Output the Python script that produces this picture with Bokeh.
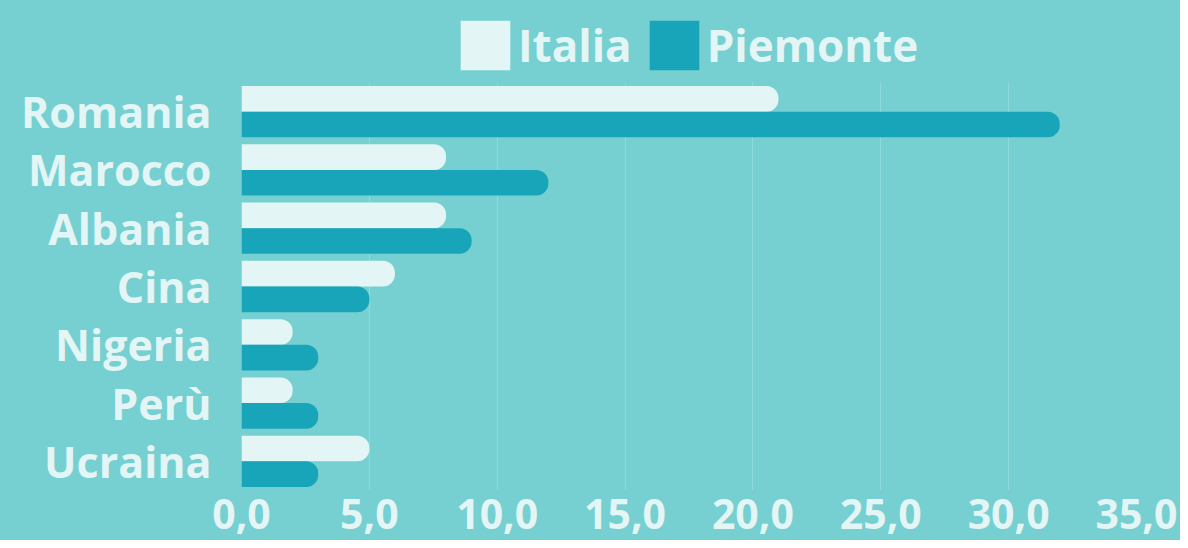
from bokeh.plotting import figure
from bokeh.layouts import column
from bokeh.models import (ColumnDataSource, FactorRange, Range1d, FixedTicker,
                          CustomJSTickFormatter, Legend, LegendItem)
from bokeh.transform import dodge
from bokeh.embed import file_html
from bokeh.resources import INLINE

categories = ["Romania", "Marocco", "Albania", "Cina", "Nigeria", "Perù", "Ucraina"]
italia = [21, 8, 8, 6, 2, 2, 5]
piemonte = [32, 12, 9, 5, 3, 3, 3]
x_ticks = [0, 5, 10, 15, 20, 25, 30, 35]
series_names = ["Italia", "Piemonte"]

BG = "#76d0d1"
LIGHT = "#e3f5f5"
DARK = "#18a4b9"
FONT = "Open Sans"
BGSTYLE = {"background-color": BG}

src = ColumnDataSource(dict(cat=categories, italia=italia, piemonte=piemonte))

# ---- legend strip (renderers hidden, used only for legend swatches) ----
lg = figure(width=1180, height=80, output_backend="svg", toolbar_location=None,
            y_range=FactorRange(*categories), x_range=Range1d(0, 35),
            min_border_left=0, min_border_right=0, min_border_top=0, min_border_bottom=0,
            background_fill_color=BG, border_fill_color=BG, outline_line_color=None,
            x_axis_type=None, y_axis_type=None, styles=BGSTYLE)
lg.grid.visible = False
d1 = lg.hbar(y="cat", right="italia", height=0.5, source=src,
             fill_color=LIGHT, line_color=None, visible=False)
d2 = lg.hbar(y="cat", right="piemonte", height=0.5, source=src,
             fill_color=DARK, line_color=None, visible=False)
legend = Legend(
    items=[LegendItem(label=series_names[0], renderers=[d1]),
           LegendItem(label=series_names[1], renderers=[d2])],
    orientation="horizontal", location=(213, 4),
    glyph_width=62, glyph_height=62, label_standoff=2, spacing=11,
    label_text_font=FONT, label_text_font_style="bold",
    label_text_font_size="44px", label_text_color=LIGHT,
    label_height=50, background_fill_alpha=0, border_line_color=None,
    padding=0, margin=0, click_policy="none",
)
lg.add_layout(legend, "center")

# ---- main chart ----
p = figure(
    y_range=FactorRange(*list(reversed(categories))),
    x_range=Range1d(0, 35),
    width=1180, height=460,
    min_border_left=241, min_border_right=44,
    min_border_top=2, min_border_bottom=50,
    output_backend="svg", toolbar_location=None,
    background_fill_color=BG, border_fill_color=BG,
    outline_line_color=None, styles=BGSTYLE,
)

p.hbar(y=dodge("cat", 0.22, range=p.y_range), right="italia", left=0,
       height=0.44, source=src, fill_color=LIGHT, line_color=None,
       border_radius=(0, 12, 12, 0))
p.hbar(y=dodge("cat", -0.22, range=p.y_range), right="piemonte", left=0,
       height=0.44, source=src, fill_color=DARK, line_color=None,
       border_radius=(0, 12, 12, 0))

p.ygrid.grid_line_color = None
p.xgrid.grid_line_color = "#8fd9da"
p.xgrid.grid_line_width = 1
p.xgrid.ticker = FixedTicker(ticks=x_ticks)

p.xaxis.ticker = FixedTicker(ticks=x_ticks)
p.xaxis.formatter = CustomJSTickFormatter(code="return tick.toFixed(1).replace('.', ',');")
for ax in (p.xaxis[0], p.yaxis[0]):
    ax.axis_line_color = None
    ax.major_tick_line_color = None
    ax.minor_tick_line_color = None
    ax.major_tick_out = 0
    ax.major_tick_in = 0
    ax.major_label_text_font = FONT
    ax.major_label_text_font_style = "bold"
    ax.major_label_text_color = LIGHT
p.xaxis.major_label_text_font_size = "41px"
p.yaxis.major_label_text_font_size = "43px"
p.xaxis.major_label_standoff = 8
p.yaxis.major_label_standoff = 30

layout = column(lg, p, spacing=0, styles=BGSTYLE)
open("out.html", "w").write(file_html(layout, INLINE))
